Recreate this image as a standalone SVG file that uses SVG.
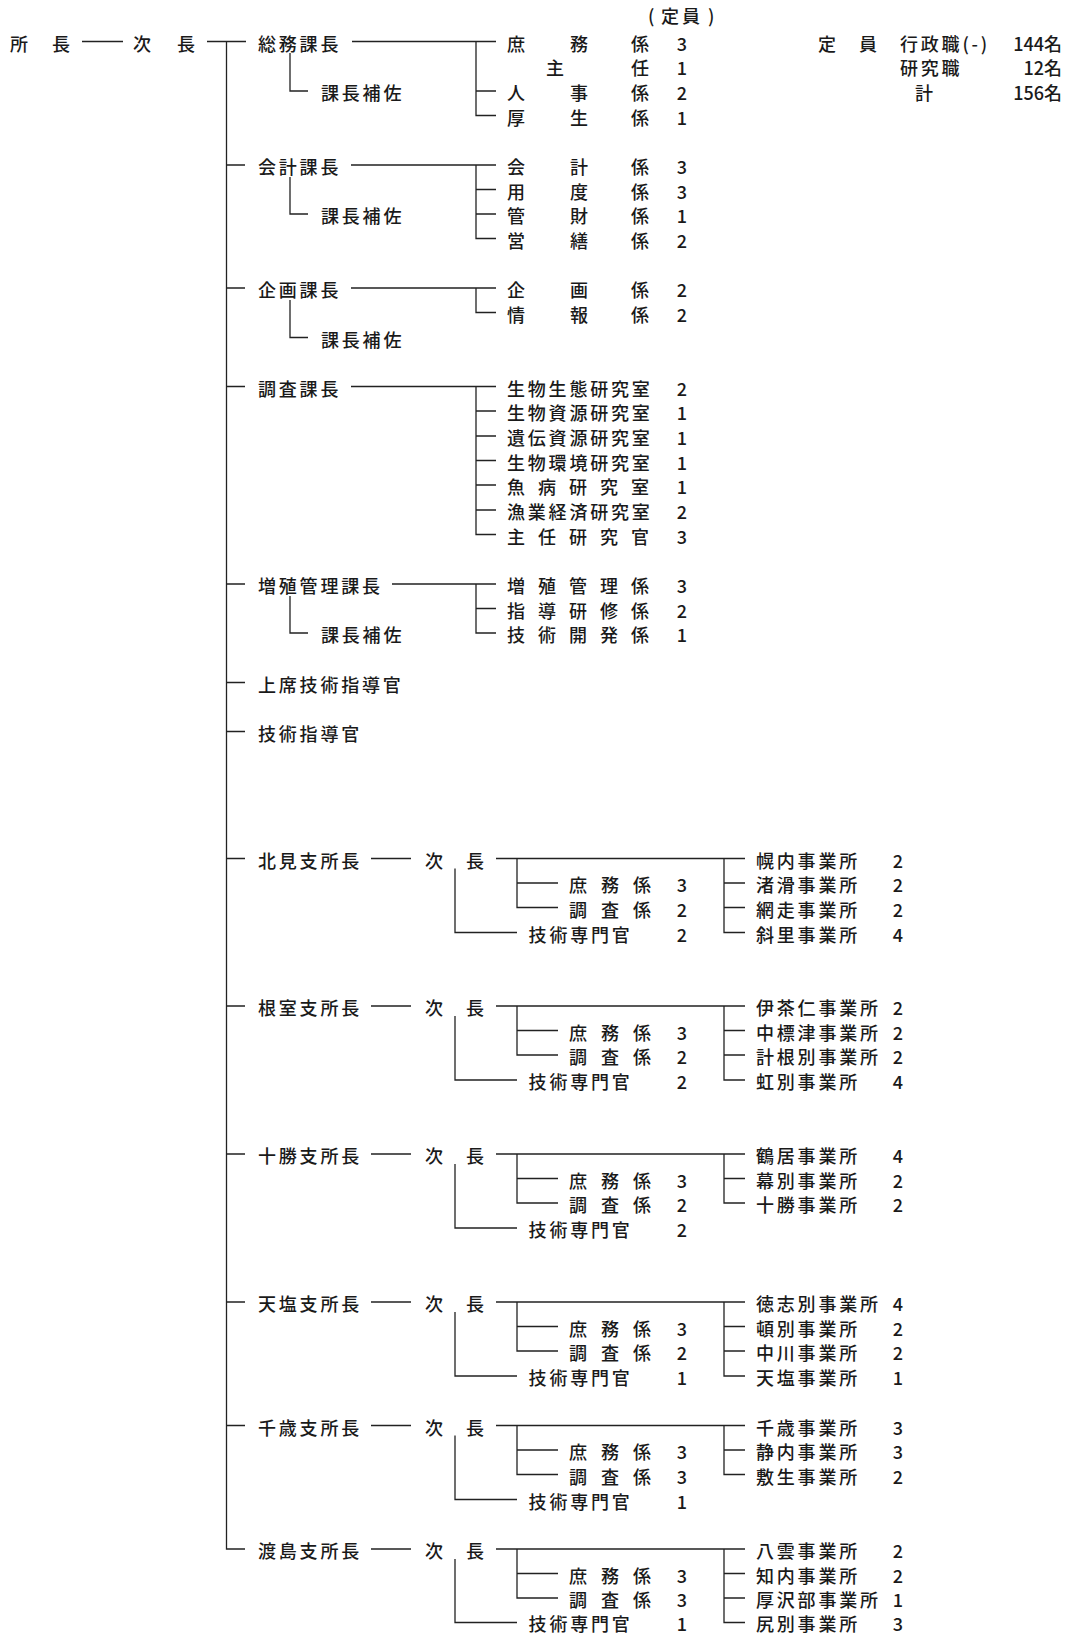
<svg xmlns="http://www.w3.org/2000/svg" width="1069" height="1633" viewBox="0 0 1069 1633">
<style>
text{font-family:"Noto Sans CJK JP","Noto Sans CJK SC",sans-serif;font-size:18px;font-weight:500;fill:#1a1a1a;dominant-baseline:central;letter-spacing:2.8px}
text.n{letter-spacing:0;text-anchor:middle}
text.r{letter-spacing:0;text-anchor:end}
#connectors path{stroke:#222;stroke-width:1.3;fill:none}
</style>
<rect width="1069" height="1633" fill="#fff"/>
<g id="connectors">
<path d="M82 41.5H123M207 41.5H246M226.5 41.5V1549H245"/>
<path d="M226.5 165H245M226.5 288H245M226.5 386.5H245M226.5 584H245M226.5 682.5H245M226.5 731.5H245M226.5 858.5H245M226.5 1006H245M226.5 1154H245M226.5 1302H245M226.5 1425.5H245"/>
<path d="M352 41.5H496M476 41.5V115.5H496M476 91H496M290 53V91H308"/>
<path d="M351 165H496M476 165V238.5H496M476 189.5H496M476 214H496M290 177V214H308"/>
<path d="M351 288H496M476 288V312.5H496M290 300V337.5H308"/>
<path d="M351 386.5H496M476 386.5V534.5H496M476 411H496M476 436H496M476 460.5H496M476 485H496M476 510H496"/>
<path d="M392 584H496M476 584V633H496M476 608.5H496M290 596V633H308"/>
<path d="M371 858.5H411M496 858.5H745M517 858.5V907.5H558M517 883H558M455 868.5V932.5H517M724 858.5V932.5H745M724 883H745M724 907.5H745"/>
<path d="M371 1006H411M496 1006H745M517 1006V1055H558M517 1030.5H558M455 1016V1080H517M724 1006V1080H745M724 1030.5H745M724 1055H745"/>
<path d="M371 1154H411M496 1154H745M517 1154V1203H558M517 1178.5H558M455 1164V1228H517M724 1154V1203H745M724 1178.5H745"/>
<path d="M371 1302H411M496 1302H745M517 1302V1351H558M517 1326.5H558M455 1312V1376H517M724 1302V1376H745M724 1326.5H745M724 1351H745"/>
<path d="M371 1425.5H411M496 1425.5H745M517 1425.5V1474.5H558M517 1450H558M455 1435.5V1499.5H517M724 1425.5V1474.5H745M724 1450H745"/>
<path d="M371 1549H411M496 1549H745M517 1549V1598H558M517 1573.5H558M455 1559V1622.5H517M724 1549V1622.5H745M724 1573.5H745M724 1598H745"/>
</g>
<g id="header">
<text x="648 661 682 708" y="15">(定員)</text>
</g>
<g id="totals">
<text x="818 859" y="42.5">定員</text>
<text x="900" y="42.5">行政職(-)</text>
<text class="r" x="1062" y="42.5">144名</text>
<text x="900" y="67">研究職</text>
<text class="r" x="1062" y="67">12名</text>
<text x="915" y="92">計</text>
<text class="r" x="1062" y="92">156名</text>
</g>
<g id="shocho"><text x="10 52" y="42.5">所長</text></g>
<g id="jicho"><text x="133 177" y="42.5">次長</text></g>
<g id="somu">
<text x="258" y="42.5">総務課長</text>
<text x="321" y="92">課長補佐</text>
<text x="507 570 631" y="42.5">庶務係</text><text class="n" x="682" y="42.5">3</text>
<text x="546 631" y="67">主任</text><text class="n" x="682" y="67">1</text>
<text x="507 570 631" y="92">人事係</text><text class="n" x="682" y="92">2</text>
<text x="507 570 631" y="116.5">厚生係</text><text class="n" x="682" y="116.5">1</text>
</g>
<g id="kaikei">
<text x="258" y="166">会計課長</text>
<text x="321" y="215">課長補佐</text>
<text x="507 570 631" y="166">会計係</text><text class="n" x="682" y="166">3</text>
<text x="507 570 631" y="190.5">用度係</text><text class="n" x="682" y="190.5">3</text>
<text x="507 570 631" y="215">管財係</text><text class="n" x="682" y="215">1</text>
<text x="507 570 631" y="239.5">営繕係</text><text class="n" x="682" y="239.5">2</text>
</g>
<g id="kikaku">
<text x="258" y="289">企画課長</text>
<text x="321" y="338.5">課長補佐</text>
<text x="507 570 631" y="289">企画係</text><text class="n" x="682" y="289">2</text>
<text x="507 570 631" y="313.5">情報係</text><text class="n" x="682" y="313.5">2</text>
</g>
<g id="chosa">
<text x="258" y="387.5">調査課長</text>
<text x="507" y="387.5">生物生態研究室</text><text class="n" x="682" y="387.5">2</text>
<text x="507" y="412">生物資源研究室</text><text class="n" x="682" y="412">1</text>
<text x="507" y="437">遺伝資源研究室</text><text class="n" x="682" y="437">1</text>
<text x="507" y="461.5">生物環境研究室</text><text class="n" x="682" y="461.5">1</text>
<text x="507 538 569 600 631" y="486">魚病研究室</text><text class="n" x="682" y="486">1</text>
<text x="507" y="511">漁業経済研究室</text><text class="n" x="682" y="511">2</text>
<text x="507 538 569 600 631" y="535.5">主任研究官</text><text class="n" x="682" y="535.5">3</text>
</g>
<g id="zoshoku">
<text x="258" y="585">増殖管理課長</text>
<text x="321" y="634">課長補佐</text>
<text x="507 538 569 600 631" y="585">増殖管理係</text><text class="n" x="682" y="585">3</text>
<text x="507 538 569 600 631" y="609.5">指導研修係</text><text class="n" x="682" y="609.5">2</text>
<text x="507 538 569 600 631" y="634">技術開発係</text><text class="n" x="682" y="634">1</text>
</g>
<g id="joseki"><text x="258" y="683.5">上席技術指導官</text></g>
<g id="gijutsu"><text x="258" y="732.5">技術指導官</text></g>
<g id="kitami">
<text x="258" y="859.5">北見支所長</text>
<text x="425 466" y="859.5">次長</text>
<text x="569 601 633" y="884">庶務係</text><text class="n" x="682" y="884">3</text>
<text x="569 601 633" y="908.5">調査係</text><text class="n" x="682" y="908.5">2</text>
<text x="528.6" y="933.5">技術専門官</text><text class="n" x="682" y="933.5">2</text>
<text x="756" y="859.5">幌内事業所</text><text class="n" x="898" y="859.5">2</text>
<text x="756" y="884">渚滑事業所</text><text class="n" x="898" y="884">2</text>
<text x="756" y="908.5">網走事業所</text><text class="n" x="898" y="908.5">2</text>
<text x="756" y="933.5">斜里事業所</text><text class="n" x="898" y="933.5">4</text>
</g>
<g id="nemuro">
<text x="258" y="1007">根室支所長</text>
<text x="425 466" y="1007">次長</text>
<text x="569 601 633" y="1031.5">庶務係</text><text class="n" x="682" y="1031.5">3</text>
<text x="569 601 633" y="1056">調査係</text><text class="n" x="682" y="1056">2</text>
<text x="528.6" y="1081">技術専門官</text><text class="n" x="682" y="1081">2</text>
<text x="756" y="1007">伊茶仁事業所</text><text class="n" x="898" y="1007">2</text>
<text x="756" y="1031.5">中標津事業所</text><text class="n" x="898" y="1031.5">2</text>
<text x="756" y="1056">計根別事業所</text><text class="n" x="898" y="1056">2</text>
<text x="756" y="1081">虹別事業所</text><text class="n" x="898" y="1081">4</text>
</g>
<g id="tokachi">
<text x="258" y="1155">十勝支所長</text>
<text x="425 466" y="1155">次長</text>
<text x="569 601 633" y="1179.5">庶務係</text><text class="n" x="682" y="1179.5">3</text>
<text x="569 601 633" y="1204">調査係</text><text class="n" x="682" y="1204">2</text>
<text x="528.6" y="1229">技術専門官</text><text class="n" x="682" y="1229">2</text>
<text x="756" y="1155">鶴居事業所</text><text class="n" x="898" y="1155">4</text>
<text x="756" y="1179.5">幕別事業所</text><text class="n" x="898" y="1179.5">2</text>
<text x="756" y="1204">十勝事業所</text><text class="n" x="898" y="1204">2</text>
</g>
<g id="teshio">
<text x="258" y="1303">天塩支所長</text>
<text x="425 466" y="1303">次長</text>
<text x="569 601 633" y="1327.5">庶務係</text><text class="n" x="682" y="1327.5">3</text>
<text x="569 601 633" y="1352">調査係</text><text class="n" x="682" y="1352">2</text>
<text x="528.6" y="1377">技術専門官</text><text class="n" x="682" y="1377">1</text>
<text x="756" y="1303">徳志別事業所</text><text class="n" x="898" y="1303">4</text>
<text x="756" y="1327.5">頓別事業所</text><text class="n" x="898" y="1327.5">2</text>
<text x="756" y="1352">中川事業所</text><text class="n" x="898" y="1352">2</text>
<text x="756" y="1377">天塩事業所</text><text class="n" x="898" y="1377">1</text>
</g>
<g id="chitose">
<text x="258" y="1426.5">千歳支所長</text>
<text x="425 466" y="1426.5">次長</text>
<text x="569 601 633" y="1451">庶務係</text><text class="n" x="682" y="1451">3</text>
<text x="569 601 633" y="1475.5">調査係</text><text class="n" x="682" y="1475.5">3</text>
<text x="528.6" y="1500.5">技術専門官</text><text class="n" x="682" y="1500.5">1</text>
<text x="756" y="1426.5">千歳事業所</text><text class="n" x="898" y="1426.5">3</text>
<text x="756" y="1451">静内事業所</text><text class="n" x="898" y="1451">3</text>
<text x="756" y="1475.5">敷生事業所</text><text class="n" x="898" y="1475.5">2</text>
</g>
<g id="oshima">
<text x="258" y="1550">渡島支所長</text>
<text x="425 466" y="1550">次長</text>
<text x="569 601 633" y="1574.5">庶務係</text><text class="n" x="682" y="1574.5">3</text>
<text x="569 601 633" y="1599">調査係</text><text class="n" x="682" y="1599">3</text>
<text x="528.6" y="1623">技術専門官</text><text class="n" x="682" y="1623">1</text>
<text x="756" y="1550">八雲事業所</text><text class="n" x="898" y="1550">2</text>
<text x="756" y="1574.5">知内事業所</text><text class="n" x="898" y="1574.5">2</text>
<text x="756" y="1599">厚沢部事業所</text><text class="n" x="898" y="1599">1</text>
<text x="756" y="1623">尻別事業所</text><text class="n" x="898" y="1623">3</text>
</g>
</svg>
